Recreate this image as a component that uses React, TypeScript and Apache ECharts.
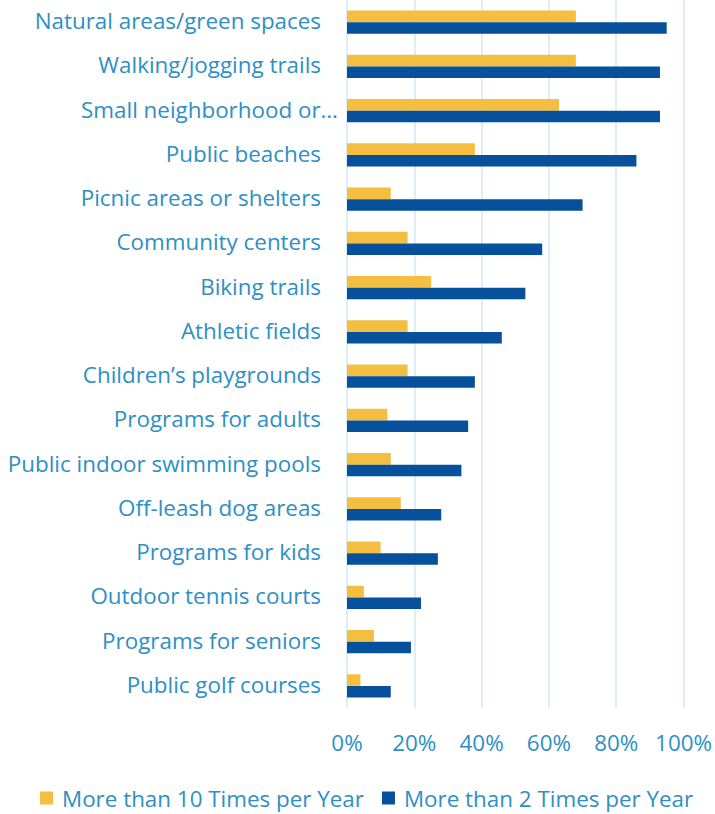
import React, { useEffect, useRef } from "react";
import * as echarts from "echarts";

const categories = [
  "Natural areas/green spaces",
  "Walking/jogging trails",
  "Small neighborhood or…",
  "Public beaches",
  "Picnic areas or shelters",
  "Community centers",
  "Biking trails",
  "Athletic fields",
  "Children’s playgrounds",
  "Programs for adults",
  "Public indoor swimming pools",
  "Off-leash dog areas",
  "Programs for kids",
  "Outdoor tennis courts",
  "Programs for seniors",
  "Public golf courses",
];

const moreThan10 = [68, 68, 63, 38, 13, 18, 25, 18, 18, 12, 13, 16, 10, 5, 8, 4];
const moreThan2 = [95, 93, 93, 86, 70, 58, 53, 46, 38, 36, 34, 28, 27, 22, 19, 13];

const seriesNames = ["More than 10 Times per Year", "More than 2 Times per Year"];
const xTicks = [0, 20, 40, 60, 80, 100];

const TEXT = "#2E8FC4";
const FONT = "Open Sans";
const FS = 22.4;

export default function App() {
  const ref = useRef<HTMLDivElement>(null);
  useEffect(() => {
    if (!ref.current) return;
    const chart = echarts.init(ref.current, undefined, { renderer: "svg" });
    chart.setOption({
      animation: false,
      textStyle: { fontFamily: FONT },
      grid: { left: 347, right: 31, top: -3, bottom: 106, containLabel: false },
      legend: {
        data: seriesNames,
        left: 40,
        top: 787,
        padding: 0,
        icon: "rect",
        itemWidth: 13,
        itemHeight: 13,
        itemGap: 18,
        textStyle: { color: TEXT, fontSize: FS, fontFamily: FONT, padding: [0, 0, 0, 4] },
      },
      xAxis: {
        type: "value",
        min: xTicks[0],
        max: xTicks[xTicks.length - 1],
        interval: 20,
        axisLine: { show: false },
        axisTick: { show: false },
        splitLine: { show: true, lineStyle: { color: "#DCEEF9", width: 2 } },
        axisLabel: {
          color: TEXT,
          fontSize: FS,
          fontFamily: FONT,
          margin: 23,
          formatter: (v: number) => v + "%",
        },
      },
      yAxis: {
        type: "category",
        inverse: true,
        data: categories,
        axisLine: { show: false },
        axisTick: { show: false },
        axisLabel: {
          color: TEXT,
          fontSize: FS,
          fontFamily: FONT,
          margin: 9,
          formatter: (v: string) => (v.endsWith("…") ? `{e|${v}}` : `{n|${v}}`),
          rich: {
            e: { color: TEXT, fontSize: FS, fontFamily: FONT, padding: [0, 0, 3, 0] },
            n: { color: TEXT, fontSize: FS, fontFamily: FONT, padding: [0, 17, 3, 0] },
          },
        },
      },
      series: [
        {
          name: seriesNames[0],
          type: "bar",
          data: moreThan10,
          barWidth: 11.6,
          barGap: "0%",
          itemStyle: { color: "#F4BF41" },
        },
        {
          name: seriesNames[1],
          type: "bar",
          data: moreThan2,
          barWidth: 11.6,
          barGap: "0%",
          itemStyle: { color: "#07509C" },
        },
      ],
    });
    return () => chart.dispose();
  }, []);
  return (
    <div
      ref={ref}
      style={{ position: "absolute", left: 0, top: 0, width: 715, height: 814 }}
    />
  );
}
